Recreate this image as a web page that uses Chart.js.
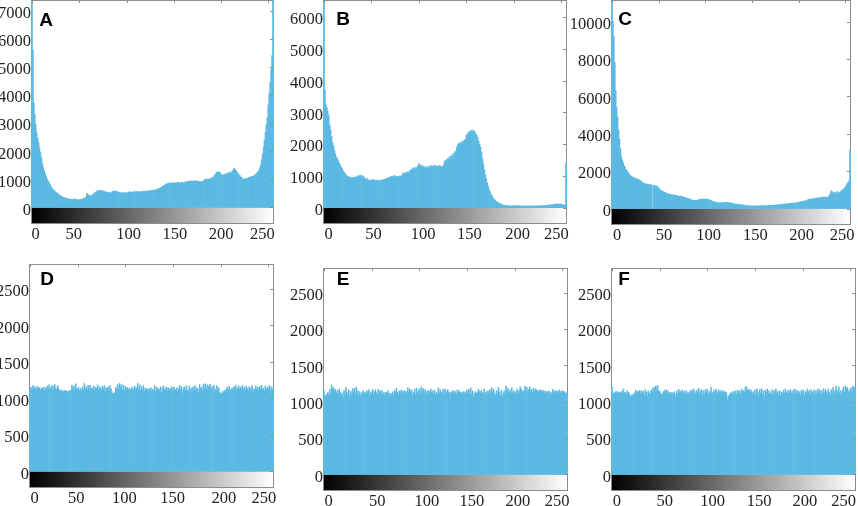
<!DOCTYPE html>
<html><head><meta charset="utf-8">
<script src="https://cdn.jsdelivr.net/npm/chart.js@4/dist/chart.umd.min.js"></script>
<style>html,body{margin:0;padding:0;background:#fff;width:858px;height:506px;overflow:hidden;position:relative}canvas{position:absolute;display:block}</style>
</head><body>
<script>
const grayLevels = [0,50,100,150,200,250];
const ticksAB = [0,1000,2000,3000,4000,5000,6000,7000];
const ticksB = [0,1000,2000,3000,4000,5000,6000];
const ticksC = [0,2000,4000,6000,8000,10000];
const ticksFlat = [0,500,1000,1500,2000,2500];

const histA = [
7400,5600,3700,3300,2950,2650,2450,2300,2120,1950,
1760,1560,1420,1300,1200,1100,1000,950,880,830,
760,700,650,610,580,550,530,500,470,440,
420,400,380,360,350,340,330,320,310,300,
290,300,280,290,280,310,290,280,270,280,
270,275,285,290,305,320,340,360,490,470,
440,420,410,420,450,480,510,530,560,580,
600,610,600,590,600,590,570,560,550,540,
530,540,520,510,530,560,580,560,590,570,
560,540,550,530,520,510,540,520,490,530,
520,510,540,550,560,530,550,540,560,550,
560,570,550,560,540,570,550,560,580,570,
580,560,570,600,590,580,600,590,610,620,
600,630,650,640,660,680,700,720,740,760,
780,800,830,850,860,870,860,880,870,850,
880,870,860,880,890,870,880,860,890,900,
880,870,900,920,900,930,910,950,920,940,
930,950,920,960,930,940,910,930,920,910,
920,940,960,1000,980,1020,990,1010,1000,1030,
1060,1020,1090,1130,1180,1240,1260,1230,1270,1250,
1180,1150,1170,1130,1190,1140,1220,1180,1240,1200,
1260,1230,1300,1340,1400,1350,1310,1250,1200,1160,
1130,1080,1060,1010,990,1030,1000,1040,1020,1060,
1070,1090,1080,1110,1100,1130,1160,1190,1220,1260,
1310,1400,1520,1700,1900,2150,2400,2680,2950,3200,
3650,4050,4450,4900,5400,7400];

const histB = [
6500,3700,3250,3150,3050,2900,2600,2450,2250,2050,
1950,1800,1700,1600,1550,1480,1400,1350,1280,1250,
1180,1120,1080,1060,1000,990,970,950,960,930,
950,940,960,970,950,980,1000,1010,990,1030,
980,1000,960,930,900,880,920,860,840,870,
850,890,860,880,840,870,850,860,830,860,
850,880,860,890,900,880,920,930,950,940,
970,990,960,1000,980,1010,990,970,990,980,
1000,980,1010,1090,1060,1100,1070,1110,1130,1090,
1150,1190,1170,1220,1250,1200,1260,1230,1280,1310,
1390,1340,1300,1330,1270,1310,1250,1290,1230,1290,
1250,1310,1280,1330,1290,1320,1270,1340,1300,1310,
1290,1330,1280,1310,1270,1300,1340,1450,1500,1480,
1550,1520,1600,1570,1640,1620,1700,1650,1750,1780,
1900,1980,2020,2050,2000,2080,2050,2100,2120,2150,
2300,2280,2380,2350,2420,2400,2440,2380,2430,2380,
2320,2280,2200,2100,2000,1900,1750,1550,1380,1200,
1040,900,780,680,580,500,430,370,320,280,
240,210,190,170,150,130,115,100,90,80,
75,65,70,60,65,55,60,50,60,55,
60,55,65,50,60,55,60,50,55,45,
55,50,45,55,50,45,55,50,45,55,
50,60,45,55,50,60,55,50,60,65,
60,55,70,65,75,70,80,75,85,90,
85,100,90,110,105,120,100,115,105,120,
95,100,90,85,80,1400];

const histC = [
11100,10000,9200,7800,6300,5400,4900,4200,3700,3200,
2800,2600,2450,2300,2200,2100,2000,1950,1880,1800,
1750,1720,1680,1650,1640,1620,1600,1580,1550,1530,
1500,1480,1430,1380,1350,1330,1320,1300,1310,1290,
1280,1270,1260,0,1250,1220,1200,1210,1180,1170,
1080,1040,980,950,930,900,880,860,830,800,
790,780,760,750,730,740,710,720,690,700,
680,670,650,660,640,650,620,600,580,570,
560,540,530,510,490,470,450,440,430,420,
440,430,450,480,490,470,500,510,500,490,
510,500,490,480,470,450,430,410,390,370,
350,330,320,310,300,320,290,310,300,320,
310,330,320,340,300,320,290,280,300,270,
260,250,240,230,240,220,210,220,200,190,
180,190,170,160,150,170,140,150,130,140,
130,140,120,130,140,130,150,140,130,150,
140,150,130,160,150,140,160,150,170,160,
150,170,160,180,170,190,180,200,190,210,
200,220,210,230,240,220,250,240,260,250,
270,260,290,280,300,270,310,290,320,300,
340,330,360,350,380,370,410,390,430,460,
440,500,470,520,490,530,510,550,520,560,
540,580,550,600,570,610,590,620,580,610,
600,590,640,720,820,950,900,780,860,800,
880,760,900,800,850,900,950,1000,1040,1080,
1150,1250,1330,1400,1480,3100];

const histD = [
1120,1150,1110,1175,1130,1160,1145,1120,1165,1135,
1150,1110,1140,1125,1155,1105,1145,1130,1170,1135,
1185,1120,1150,1175,1110,1165,1190,1140,1115,1175,
1130,1110,1095,1115,1100,1085,1110,1095,1105,1090,
1100,1075,1110,1095,1180,1130,1165,1115,1200,1135,
1120,1150,1110,1135,1100,1155,1115,1205,1130,1160,
1115,1175,1135,1180,1110,1145,1125,1170,1105,1150,
1135,1185,1120,1160,1140,1110,1165,1125,1175,1100,
1145,1130,1160,1115,1175,1135,1090,1065,1060,1080,
1150,1125,1190,1130,1205,1155,1190,1120,1180,1105,
1165,1135,1150,1110,1140,1125,1120,1155,1105,1135,
1170,1115,1145,1205,1130,1185,1110,1160,1125,1175,
1100,1140,1120,1130,1095,1135,1110,1145,1105,1125,
1115,1175,1090,1150,1120,1135,1105,1160,1075,1140,
1170,1110,1130,1155,1100,1145,1115,1135,1120,1160,
1105,1150,1125,1110,1145,1095,1135,1175,1120,1160,
1070,1130,1155,1105,1175,1120,1090,1165,1110,1140,
1085,1155,1115,1175,1100,1145,1125,1075,1190,1135,
1155,1110,1195,1140,1200,1125,1185,1150,1175,1195,
1115,1160,1120,1180,1075,1130,1175,1105,1150,1085,
1070,1060,1095,1075,1110,1090,1130,1150,1115,1165,
1105,1125,1140,1115,1160,1130,1175,1110,1145,1170,
1125,1155,1135,1180,1115,1150,1125,1170,1135,1105,
1160,1120,1145,1175,1085,1130,1110,1175,1125,1150,
1105,1165,1135,1180,1110,1140,1105,1170,1125,1150,
1120,1175,1095,1160,1120,1145];

const histE = [
1150,1090,1080,1100,1125,1090,1165,1110,1230,1180,
1195,1145,1170,1120,1155,1100,1180,1135,1085,1120,
1065,1150,1110,1195,1130,1090,1165,1070,1140,1100,
1180,1120,1185,1105,1200,1150,1090,1140,1075,1125,
1095,1150,1110,1130,1100,1155,1120,1165,1090,1135,
1115,1170,1100,1140,1165,1125,1095,1170,1130,1150,
1090,1155,1105,1125,1080,1130,1115,1150,1095,1120,
1070,1110,1135,1090,1155,1120,1185,1130,1100,1150,
1125,1160,1105,1145,1130,1150,1115,1140,1190,1125,
1175,1140,1160,1085,1130,1170,1100,1190,1125,1150,
1175,1110,1205,1150,1185,1135,1165,1095,1145,1110,
1155,1120,1175,1130,1150,1115,1160,1095,1130,1105,
1190,1125,1165,1135,1095,1170,1120,1175,1105,1150,
1165,1115,1130,1085,1145,1120,1155,1110,1140,1105,
1165,1130,1150,1115,1130,1095,1140,1110,1135,1105,
1160,1120,1170,1115,1190,1100,1150,1070,1115,1140,
1105,1130,1170,1145,1120,1155,1110,1125,1175,1085,
1135,1095,1150,1120,1165,1110,1190,1140,1170,1120,
1085,1150,1105,1195,1135,1080,1160,1070,1120,1150,
1105,1215,1145,1185,1130,1160,1110,1195,1120,1150,
1130,1100,1145,1175,1115,1150,1205,1170,1120,1155,
1140,1215,1150,1195,1130,1175,1205,1145,1170,1130,
1185,1150,1175,1160,1150,1135,1165,1140,1160,1130,
1155,1120,1145,1110,1140,1125,1150,1090,1130,1100,
1170,1135,1150,1125,1155,1115,1140,1160,1120,1145,
1130,1150,1120,1135,1115,1105];

const histF = [
1210,1120,1105,1135,1125,1140,1115,1135,1120,1130,
1145,1110,1175,1120,1130,1105,1150,1130,1115,1085,
1070,1095,1080,1120,1100,1160,1125,1145,1130,1155,
1115,1150,1125,1145,1090,1165,1130,1075,1150,1120,
1105,1160,1130,1190,1155,1200,1215,1165,1225,1140,
1150,1120,1105,1095,1135,1160,1125,1165,1110,1150,
1095,1130,1105,1125,1090,1135,1115,1060,1145,1100,
1170,1135,1150,1120,1160,1130,1145,1105,1150,1120,
1125,1105,1150,1135,1165,1120,1175,1140,1100,1160,
1120,1185,1105,1145,1170,1090,1150,1110,1165,1125,
1175,1095,1140,1115,1195,1130,1100,1160,1125,1175,
1140,1110,1165,1135,1150,1120,1155,1130,1145,1115,
1130,1030,1075,1090,1120,1110,1135,1100,1140,1115,
1150,1095,1160,1120,1150,1105,1175,1140,1155,1125,
1195,1210,1165,1145,1175,1130,1160,1110,1135,1090,
1165,1100,1175,1135,1080,1165,1120,1180,1105,1150,
1070,1160,1130,1175,1115,1150,1100,1120,1165,1090,
1155,1125,1175,1110,1140,1095,1150,1075,1130,1105,
1160,1120,1175,1135,1110,1155,1125,1165,1115,1145,
1095,1175,1130,1160,1105,1150,1115,1140,1100,1165,
1125,1155,1085,1140,1120,1175,1130,1150,1100,1165,
1135,1115,1160,1085,1150,1110,1175,1125,1165,1105,
1150,1120,1180,1125,1165,1140,1100,1175,1130,1090,
1165,1120,1195,1145,1100,1215,1160,1130,1205,1125,
1150,1090,1160,1205,1130,1215,1175,1195,1150,1120,
1180,1140,1200,1210,1175,1210];

const bins = [];
for (let i = 0; i < 256; i++) bins.push(i);

const barColor = '#5bb9e2';
const frameColor = '#8c8c8c';

const panels = [
 {letter:'A', data:histA, yTicks:ticksAB, yMin:-590, yMax:7380, left:32, top:0, w:241, h:224, lx:46, ly:20, shift:[3.6,-5.4,2,1,0,-6]},
 {letter:'B', data:histB, yTicks:ticksB, yMin:-514, yMax:6540, left:324, top:0, w:242, h:224, lx:343, ly:19, shift:[4.7,2,4.3,3,3.7,-5]},
 {letter:'C', data:histC, yTicks:ticksC, yMin:-882, yMax:11150, left:612, top:0, w:238, h:225, lx:625, ly:19, shift:[5,5.3,3.3,3.3,3,-3.3]},
 {letter:'D', data:histD, yTicks:ticksFlat, yMin:-229, yMax:2843, left:30, top:264, w:243, h:224, lx:47, ly:279, shift:[4.7,-1.3,-1,-0.3,3.3,-4.4]},
 {letter:'E', data:histE, yTicks:ticksFlat, yMin:-228, yMax:2840, left:324, top:268, w:243, h:223, lx:343, ly:279, shift:[4.6,5.7,7.7,5,3.4,-5]},
 {letter:'F', data:histF, yTicks:ticksFlat, yMin:-228, yMax:2840, left:612, top:268, w:243, h:223, lx:624, ly:279, shift:[4.8,5,5.3,4.3,2.3,-6.7]}
];

const padL = 44, padT = 8, padR = 16, padB = 26;

const panelDecor = {
  id:'panelDecor',
  beforeDraw(chart, args, opts){
    chart.scales.x.getLabelItems().forEach((it,i)=>{
      if(!it.__moved){ it.options.translation[0] += opts.shift[i]||0; it.__moved = true; }
    });
  },
  beforeDatasetsDraw(chart){
    const {ctx, chartArea:a, scales:{y}} = chart;
    const y0 = y.getPixelForValue(0);
    const g = ctx.createLinearGradient(a.left,0,a.right,0);
    g.addColorStop(0,'#000'); g.addColorStop(1,'#fff');
    ctx.save(); ctx.fillStyle = g;
    ctx.fillRect(a.left,y0,a.right-a.left,a.bottom-y0);
    ctx.restore();
  },
  afterDatasetsDraw(chart, args, opts){
    const {ctx, chartArea:a, scales:{x,y}} = chart;
    ctx.save();
    ctx.strokeStyle = frameColor; ctx.lineWidth = 1;
    ctx.strokeRect(a.left-0.5,a.top+0.5,a.right-a.left+1,a.bottom-a.top-1);
    ctx.beginPath();
    x.ticks.forEach(t=>{const p=Math.round(x.getPixelForValue(t.value))+0.5; ctx.moveTo(p,a.top); ctx.lineTo(p,a.top+3);});
    y.ticks.forEach(t=>{const p=Math.round(y.getPixelForValue(t.value))+0.5; ctx.moveTo(a.right,p); ctx.lineTo(a.right-3,p);});
    ctx.stroke();
    // spikes of the first and last bins stay visible over the frame
    [0,255].forEach(b=>{
      const v = chart.data.datasets[0].data[b];
      const px = b===0 ? a.left-0.5 : a.right+0.5;
      ctx.strokeStyle = barColor; ctx.beginPath();
      ctx.moveTo(px,y.getPixelForValue(0));
      ctx.lineTo(px,Math.max(a.top,y.getPixelForValue(v)));
      ctx.stroke();
    });
    ctx.fillStyle = '#000';
    ctx.font = 'bold 19px "Liberation Sans"';
    ctx.textAlign = 'center'; ctx.textBaseline = 'middle';
    const cr = chart.canvas.getBoundingClientRect();
    ctx.fillText(opts.letter, opts.lx-cr.left, opts.ly-cr.top+1);
    ctx.restore();
  }
};

panels.forEach(p=>{
  const c = document.createElement('canvas');
  const cw = p.w+padL+padR, ch = p.h+padT+padB;
  c.width = cw; c.height = ch;
  c.style.left = (p.left-padL)+'px';
  c.style.top = (p.top-padT)+'px';
  c.style.width = cw+'px'; c.style.height = ch+'px';
  document.body.appendChild(c);
  const font = {family:'"Liberation Serif"', size:16.5};
  new Chart(c,{
    type:'bar',
    data:{labels:bins, datasets:[{data:p.data, backgroundColor:barColor, borderWidth:0, barPercentage:1, categoryPercentage:1}]},
    options:{
      responsive:false, animation:false, devicePixelRatio:1,
      layout:{padding:{left:0,top:padT,right:padR,bottom:0}},
      plugins:{legend:{display:false}, tooltip:{enabled:false}, title:{display:false}, panelDecor:{letter:p.letter,lx:p.lx,ly:p.ly,shift:p.shift}},
      scales:{
        x:{type:'linear',min:0,max:255,offset:false,
           grid:{display:false,drawTicks:false},border:{display:false},
           afterBuildTicks(s){s.ticks=grayLevels.map(v=>({value:v}));},
           afterFit(s){s.height=padB;s.paddingLeft=0;s.paddingRight=0;},
           ticks:{font,color:'#222',padding:1,autoSkip:false,maxRotation:0,minRotation:0,callback:v=>String(v)}},
        y:{min:p.yMin,max:p.yMax,
           grid:{display:false,drawTicks:false},border:{display:false},
           afterBuildTicks(s){s.ticks=p.yTicks.map(v=>({value:v}));},
           afterFit(s){s.width=padL;s.paddingTop=0;s.paddingBottom=0;},
           ticks:{font,color:'#222',padding:1,autoSkip:false,labelOffset:3,callback:v=>String(v)}}
      }
    },
    plugins:[panelDecor]
  });
});
</script>
</body></html>
